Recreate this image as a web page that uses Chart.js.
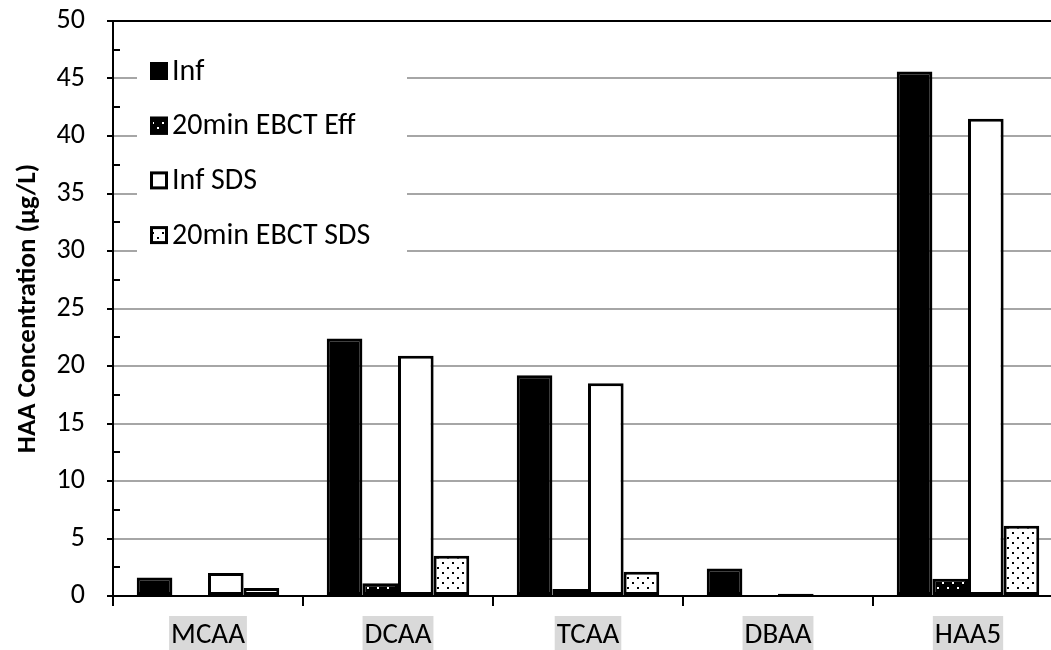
<!DOCTYPE html>
<html>
<head>
<meta charset="utf-8">
<script src="https://cdn.jsdelivr.net/npm/chart.js@4.4.1/dist/chart.umd.min.js"></script>
<style>
  html, body { margin: 0; padding: 0; background: #fff; overflow: hidden; }
  #wrap { width: 1072px; height: 650px; }
</style>
</head>
<body>
<div id="wrap"><canvas id="chart"></canvas></div>
<script>
// data
const categories = ['MCAA', 'DCAA', 'TCAA', 'DBAA', 'HAA5'];
const seriesNames = ['Inf', '20min EBCT Eff', 'Inf SDS', '20min EBCT SDS'];
const infValues = [1.6, 22.4, 19.2, 2.4, 45.6];
const effValues = [0, 1.1, 0.6, 0, 1.5];
const infSdsValues = [2.0, 20.9, 18.5, 0.2, 41.5];
const effSdsValues = [0.7, 3.5, 2.1, 0, 6.1];
const yMin = 0, yMax = 50, yStep = 5;

const FONT = "Carlito, Lato, 'Liberation Sans', sans-serif";

const canvas = document.getElementById('chart');
const ctx = canvas.getContext('2d');

function dotPattern(bg, fg, size, pts) {
  const c = document.createElement('canvas');
  c.width = c.height = size;
  const g = c.getContext('2d');
  g.fillStyle = bg;
  g.fillRect(0, 0, size, size);
  g.fillStyle = fg;
  pts.forEach(p => g.fillRect(p[0], p[1], 2, 2));
  return ctx.createPattern(c, 'repeat');
}

const effFill = dotPattern('#000', '#fff', 10, [[2, 2], [7, 7]]);
const sdsFill = dotPattern('#fff', '#000', 10, [[2, 2], [7, 7]]);
const fills = ['#000', effFill, '#fff', sdsFill];
const seriesData = [infValues, effValues, infSdsValues, effSdsValues];

// legend drawn inside the plot on a white box
const legendBox = {
  id: 'legendBox',
  beforeDatasetsDraw(chart) {
    const a = chart.chartArea;
    const c = chart.ctx;
    const x0 = a.left + 24, y0 = a.top + 30;
    c.save();
    c.fillStyle = '#fff';
    c.fillRect(x0, y0, 270, 216);
    c.font = '30px ' + FONT;
    c.textBaseline = 'middle';
    seriesNames.forEach((name, i) => {
      const cy = y0 + 19 + i * 54.7;
      const sx = x0 + 13;
      c.fillStyle = fills[i];
      c.fillRect(sx, cy - 8, 18, 18);
      c.strokeStyle = '#000';
      c.lineWidth = 3;
      c.strokeRect(sx + 1.5, cy - 6.5, 15, 15);
      c.fillStyle = '#000';
      c.fillText(name, sx + 22, cy + 2);
    });
    c.restore();
  }
};

// minor ticks on the inside of the y axis
const minorTicks = {
  id: 'minorTicks',
  afterDraw(chart) {
    const y = chart.scales.y;
    const c = chart.ctx;
    const x = chart.chartArea.left;
    c.save();
    c.strokeStyle = '#000';
    c.lineWidth = 2;
    for (let v = yMin + yStep / 2; v < yMax; v += yStep) {
      const py = Math.round(y.getPixelForValue(v));
      c.beginPath();
      c.moveTo(x, py);
      c.lineTo(x + 7, py);
      c.stroke();
    }
    c.restore();
  }
};

new Chart(canvas, {
  type: 'bar',
  data: {
    labels: categories,
    datasets: seriesNames.map((name, i) => ({
      label: name,
      data: seriesData[i],
      backgroundColor: fills[i],
      borderColor: '#000',
      borderWidth: 3,
      borderSkipped: false,
      categoryPercentage: 0.75,
      barPercentage: 1.0
    }))
  },
  options: {
    responsive: true,
    maintainAspectRatio: false,
    animation: false,
    layout: { padding: { top: 21, right: 9, left: 0, bottom: 0 } },
    plugins: { legend: { display: false }, tooltip: { enabled: false } },
    scales: {
      x: {
        grid: {
          offset: true,
          drawOnChartArea: false,
          drawTicks: true,
          tickLength: 10,
          tickColor: '#000',
          lineWidth: 2
        },
        border: { color: '#000', width: 2 },
        ticks: {
          color: '#000',
          font: { family: FONT, size: 29 },
          padding: 12,
          showLabelBackdrop: true,
          backdropColor: '#d9d9d9',
          backdropPadding: { top: 2, bottom: 10, left: 2, right: 2 }
        },
        afterFit(scale) {
          scale.height = 54;
          scale.paddingLeft = 0;
          scale.paddingRight = 0;
        }
      },
      y: {
        min: yMin,
        max: yMax,
        ticks: {
          stepSize: yStep,
          color: '#000',
          font: { family: FONT, size: 28 },
          padding: 22
        },
        grid: {
          color: c => (c.tick && c.tick.value === yMax) ? '#000' : '#a6a6a6',
          lineWidth: 2,
          drawTicks: true,
          tickLength: 6,
          tickColor: '#000'
        },
        border: { color: '#000', width: 2 },
        title: {
          display: true,
          text: 'HAA Concentration (µg/L)',
          color: '#000',
          font: { family: FONT, size: 27, weight: 'bold' },
          padding: { top: 12, bottom: 0 }
        },
        afterFit(scale) {
          scale.width = 113;
          scale.paddingTop = 0;
          scale.paddingBottom = 0;
        }
      }
    }
  },
  plugins: [legendBox, minorTicks]
});
</script>
</body>
</html>
